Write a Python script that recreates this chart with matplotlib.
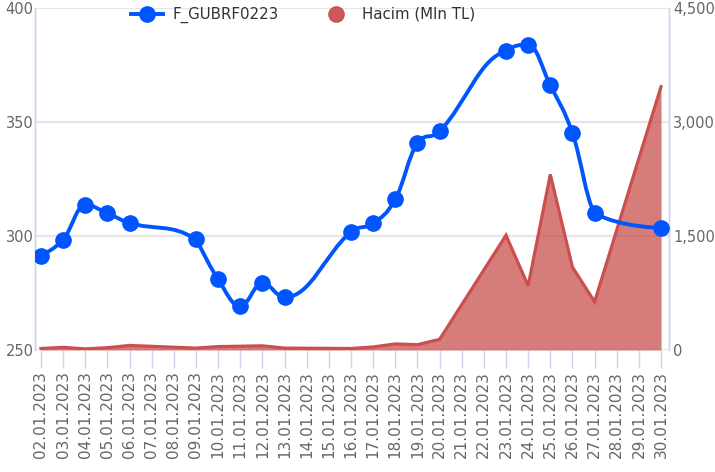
import numpy as np
import pandas as pd
import matplotlib
matplotlib.use("Agg")
import matplotlib.pyplot as plt
import matplotlib.dates as mdates
from matplotlib.path import Path
from matplotlib.patches import PathPatch
from matplotlib.lines import Line2D

# all calendar days shown on the x axis
all_days = pd.date_range("2023-01-02", "2023-01-30", freq="D")

# trading days (weekdays) with data
trade_days = pd.to_datetime([
    "2023-01-02", "2023-01-03", "2023-01-04", "2023-01-05", "2023-01-06",
    "2023-01-09", "2023-01-10", "2023-01-11", "2023-01-12", "2023-01-13",
    "2023-01-16", "2023-01-17", "2023-01-18", "2023-01-19", "2023-01-20",
    "2023-01-23", "2023-01-24", "2023-01-25", "2023-01-26", "2023-01-27",
    "2023-01-30",
])
price = [291.4, 298.4, 313.6, 310.0, 305.7,
         298.6, 281.0, 269.3, 279.3, 273.1,
         301.8, 305.6, 316.1, 340.7, 345.9,
         381.0, 383.9, 366.1, 345.1, 310.0,
         303.6]
volume = [20, 35, 15, 30, 60,
          25, 45, 50, 55, 25,
          20, 40, 80, 70, 140,
          1510, 845, 2310, 1090, 635,
          3465]

price_ticks = [250, 300, 350, 400]
vol_ticks = [0, 1500, 3000, 4500]

BLUE = "#0055ff"
RED = "#c9504f"
GRID = "#e6e6e6"
AXC = "#ccd6eb"
TXT = "#666666"


def spline_path(xs, ys, smoothing=1.5):
    # highcharts-style spline through the points (cubic bezier segments)
    n = len(xs)
    right = [None] * n
    verts = [(xs[0], ys[0])]
    codes = [Path.MOVETO]
    for i in range(1, n):
        px, py = xs[i], ys[i]
        lx, ly = xs[i - 1], ys[i - 1]
        lc = (px, py)
        if i < n - 1:
            nx, ny = xs[i + 1], ys[i + 1]
            d = smoothing + 1
            lcx = (smoothing * px + lx) / d
            lcy = (smoothing * py + ly) / d
            rcx = (smoothing * px + nx) / d
            rcy = (smoothing * py + ny) / d
            corr = 0
            if rcx != lcx:
                corr = (rcy - lcy) * (rcx - px) / (rcx - lcx) + py - rcy
            lcy += corr
            rcy += corr
            if lcy > ly and lcy > py:
                lcy = max(ly, py); rcy = 2 * py - lcy
            elif lcy < ly and lcy < py:
                lcy = min(ly, py); rcy = 2 * py - lcy
            if rcy > ny and rcy > py:
                rcy = max(ny, py); lcy = 2 * py - rcy
            elif rcy < ny and rcy < py:
                rcy = min(ny, py); lcy = 2 * py - rcy
            right[i] = (rcx, rcy)
            lc = (lcx, lcy)
        c1 = right[i - 1] if right[i - 1] is not None else (lx, ly)
        verts += [c1, lc, (px, py)]
        codes += [Path.CURVE4] * 3
    return Path(verts, codes)


fig = plt.figure(figsize=(7.15, 4.72), dpi=100)
ax2 = fig.add_axes([35 / 715, 1 - 350 / 472, 634 / 715, 342 / 472])
ax = ax2.twinx()
ax.set_zorder(ax2.get_zorder() + 1)
ax.patch.set_visible(False)

x_trade = mdates.date2num(trade_days)
x_all = mdates.date2num(all_days)

# volume area (right axis)
ax2.fill_between(x_trade, volume, 0, color=RED, alpha=0.75, lw=0, zorder=2)
ax2.plot(x_trade, volume, color=RED, lw=2.3, zorder=3, solid_joinstyle="miter")
ax2.set_ylim(0, 4500)
ax2.set_yticks(vol_ticks)
ax2.set_yticklabels([f"{v:,}" for v in vol_ticks])
ax2.yaxis.tick_right()
ax2.grid(axis="y", color=GRID, lw=1.6)
ax2.set_axisbelow(True)

# price line (left axis)
ax.add_patch(PathPatch(spline_path(list(x_trade), price), fill=False,
                       edgecolor=BLUE, lw=2.8, zorder=3))
ax.plot(x_trade, price, ls="none", marker="o", ms=11, color=BLUE, zorder=4)
ax.set_ylim(250, 400)
ax.set_yticks(price_ticks)
ax.yaxis.tick_left()

xmin, xmax = x_all[0] - 0.27, x_all[-1] + 0.36
ax2.set_xlim(xmin, xmax)
ax.set_xlim(xmin, xmax)
ax2.set_xticks(x_all)
ax2.set_xticklabels([d.strftime("%d.%m.%Y") for d in all_days], rotation=90,
                    fontsize=11, color=TXT)
ax2.tick_params(axis="x", length=13, width=1, color=AXC, pad=2)
ax2.tick_params(axis="y", length=0, labelsize=10.5, labelcolor=TXT, pad=3)
ax.tick_params(axis="y", length=0, labelsize=10.5, labelcolor=TXT, pad=1)
ax.tick_params(axis="x", bottom=False, labelbottom=False)

for a in (ax, ax2):
    for s in ("top", "bottom"):
        a.spines[s].set_visible(False)
    a.spines["left"].set_color(AXC)
    a.spines["right"].set_color(AXC)
    a.spines["left"].set_linewidth(1)
    a.spines["right"].set_linewidth(1)

handles = [
    Line2D([], [], color=BLUE, lw=2.8, marker="o", ms=11),
    Line2D([], [], color=RED, lw=0, marker="o", ms=11, alpha=0.95),
]
fig.legend(handles, ["F_GUBRF0223", "Hacim (Mln TL)"], loc="center",
           bbox_to_anchor=(303 / 715, 1 - 15 / 472), ncol=2, frameon=False,
           fontsize=10.8, handlelength=2.1, handletextpad=0.65,
           columnspacing=2.8, labelcolor="#333333")

fig.savefig("out.png", dpi=100)
